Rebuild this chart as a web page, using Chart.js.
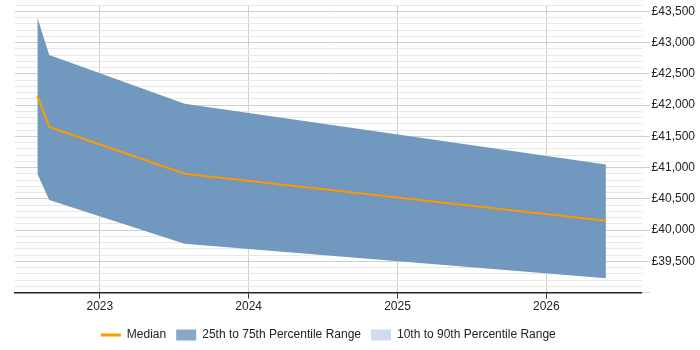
<!DOCTYPE html>
<html>
<head>
<meta charset="utf-8">
<style>
  html, body { margin: 0; padding: 0; background: #fff; }
  #wrap { width: 700px; height: 350px; position: relative; }
</style>
<script src="https://cdn.jsdelivr.net/npm/chart.js@4/dist/chart.umd.min.js"></script>
</head>
<body>
<div id="wrap"><canvas id="chart"></canvas></div>
<script>
// x positions as decimal years
const dates = [2022.58, 2022.66, 2023.57, 2026.40];
const median = [42150, 41650, 40900, 40150];
const p25 = [40900, 40480, 39780, 39230];
const p75 = [43400, 42800, 42020, 41050];
const p10 = [];
const p90 = [];
const yearTicks = [2023, 2024, 2025, 2026];

const toPoints = (vals) => vals.map((v, i) => ({ x: dates[i], y: v }));

const ctx = document.getElementById('chart').getContext('2d');

new Chart(ctx, {
    type: 'line',
    data: {
        datasets: [
            {
                label: 'Median',
                data: toPoints(median),
                borderColor: '#ff9900',
                backgroundColor: '#ff9900',
                borderWidth: 2,
                pointRadius: 0,
                fill: false,
                tension: 0,
                pointStyle: 'line',
                order: 0
            },
            {
                label: '25th to 75th Percentile Range',
                data: toPoints(p75),
                borderWidth: 0,
                borderColor: 'rgba(0,0,0,0)',
                backgroundColor: 'rgb(113,152,191)',
                pointRadius: 0,
                fill: '+1',
                tension: 0,
                pointStyle: 'rect',
                order: 1
            },
            {
                label: 'p25',
                data: toPoints(p25),
                borderWidth: 0,
                borderColor: 'rgba(0,0,0,0)',
                pointRadius: 0,
                fill: false,
                tension: 0,
                order: 2
            },
            {
                label: '10th to 90th Percentile Range',
                data: toPoints(p90),
                borderWidth: 0,
                backgroundColor: '#cddcee',
                pointRadius: 0,
                fill: false,
                pointStyle: 'rect',
                order: 3
            }
        ]
    },
    options: {
        responsive: true,
        maintainAspectRatio: false,
        animation: false,
        layout: {
            padding: { left: 15, right: 3, top: 0, bottom: -1 }
        },
        plugins: {
            legend: {
                position: 'bottom',
                fullSize: false,
                labels: {
                    usePointStyle: true,
                    pointStyleWidth: 20,
                    boxHeight: 11,
                    padding: 10,
                    color: '#222',
                    font: { family: 'Liberation Sans', size: 12 },
                    filter: (item) => item.text !== 'p25',
                    generateLabels: (chart) => {
                        const items = Chart.defaults.plugins.legend.labels.generateLabels(chart);
                        items.forEach(it => {
                            if (it.text === 'Median') {
                                it.lineWidth = 3;
                                it.strokeStyle = '#ff9900';
                            } else if (it.text.startsWith('25th')) {
                                it.fillStyle = '#88a8c9';
                                it.lineWidth = 0;
                            } else {
                                it.lineWidth = 0;
                            }
                        });
                        return items;
                    }
                }
            },
            tooltip: { enabled: false }
        },
        scales: {
            x: {
                type: 'linear',
                min: 2022.43,
                max: 2026.64,
                afterBuildTicks: (scale) => {
                    scale.ticks = yearTicks.map(v => ({ value: v }));
                },
                afterFit: (scale) => { scale.height += 4; },
                grid: {
                    color: '#d0d0d0',
                    tickLength: 6,
                    tickColor: '#333'
                },
                border: { color: '#222', width: 1.5 },
                ticks: {
                    color: '#222',
                    padding: 1,
                    font: { family: 'Liberation Sans', size: 12 },
                    callback: (v) => String(v)
                }
            },
            y: {
                position: 'right',
                min: 39000,
                max: 43600,
                afterFit: (scale) => { scale.paddingTop = 5; },
                border: { display: false },
                grid: {
                    color: (c) => (c.tick && c.tick.value % 500 === 0) ? '#cfcfcf' : '#e8e8e8',
                    tickLength: 8,
                    tickColor: (c) => (c.tick && c.tick.value % 500 === 0) ? '#cfcfcf' : 'rgba(0,0,0,0)'
                },
                ticks: {
                    stepSize: 100,
                    autoSkip: false,
                    color: '#222',
                    padding: 2,
                    font: { family: 'Liberation Sans', size: 12 },
                    callback: (v) => (v % 500 === 0 && v !== 39000) ? '£' + v.toLocaleString('en-GB') : ''
                }
            }
        }
    }
});
</script>
</body>
</html>
